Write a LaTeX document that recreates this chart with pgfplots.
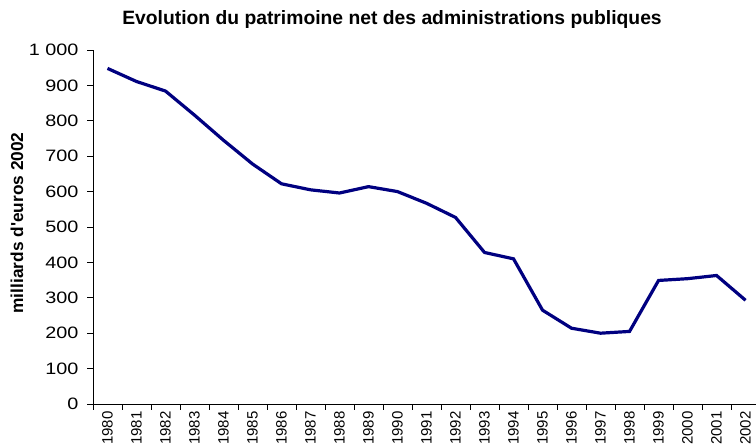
\documentclass[border=0pt]{standalone}
\usepackage{fontspec}
\setmainfont{Liberation Sans}
\newfontfamily\widefont[FakeStretch=1.2]{Liberation Sans}
\newfontfamily\labfont[Ligatures=TeXOff]{Liberation Sans}
\usepackage{pgfplots}
\pgfplotsset{compat=1.18}
\definecolor{navyline}{RGB}{0,0,128}
\begin{document}
\begin{tikzpicture}
\useasboundingbox (0pt,0pt) rectangle (756pt,446pt);
\begin{axis}[
    at={(93pt,42pt)}, anchor=south west,
    scale only axis, width=663pt, height=354pt,
    xmin=-0.5, xmax=22.36, ymin=0, ymax=1000,
    axis x line=bottom, axis y line=left,
    axis line style={-, line width=0.8pt},
    tick align=outside, major tick length=6pt,
    tick style={black, line width=0.8pt},
    ytick={0,100,...,1000},
    yticklabels={0,100,200,300,400,500,600,700,800,900,1 000},
    yticklabel style={font=\widefont\fontsize{16.5}{19}\selectfont},
    yticklabel shift=5pt,
    xtick={-0.5,0.5,...,21.5}, xticklabels={},
    xticklabel style={rotate=90, anchor=east, font=\fontsize{15}{17}\selectfont},
    xticklabel shift=4pt,
    extra x ticks={0,1,...,22},
    extra x tick labels={1980,1981,1982,1983,1984,1985,1986,1987,1988,1989,1990,1991,1992,1993,1994,1995,1996,1997,1998,1999,2000,2001,2002},
    extra x tick style={major tick length=0pt},
]
    % patrimoine net, milliards d'euros 2002
    \addplot[navyline, line width=3.2pt] coordinates {
        (0,948) (1,911) (2,884) (3,816) (4,745) (5,678) (6,622) (7,605)
        (8,596) (9,614) (10,600) (11,567) (12,527) (13,428) (14,410)
        (15,265) (16,214) (17,200) (18,205) (19,349) (20,354) (21,363) (22,293)
    };
\end{axis}
\node[font=\bfseries\fontsize{19.3}{22}\selectfont] at (392pt,426pt) {Evolution du patrimoine net des administrations publiques};
\node[rotate=90, font=\labfont\bfseries\fontsize{17.3}{20}\selectfont] at (17pt,223pt) {milliards d'euros 2002};
\end{tikzpicture}
\end{document}
